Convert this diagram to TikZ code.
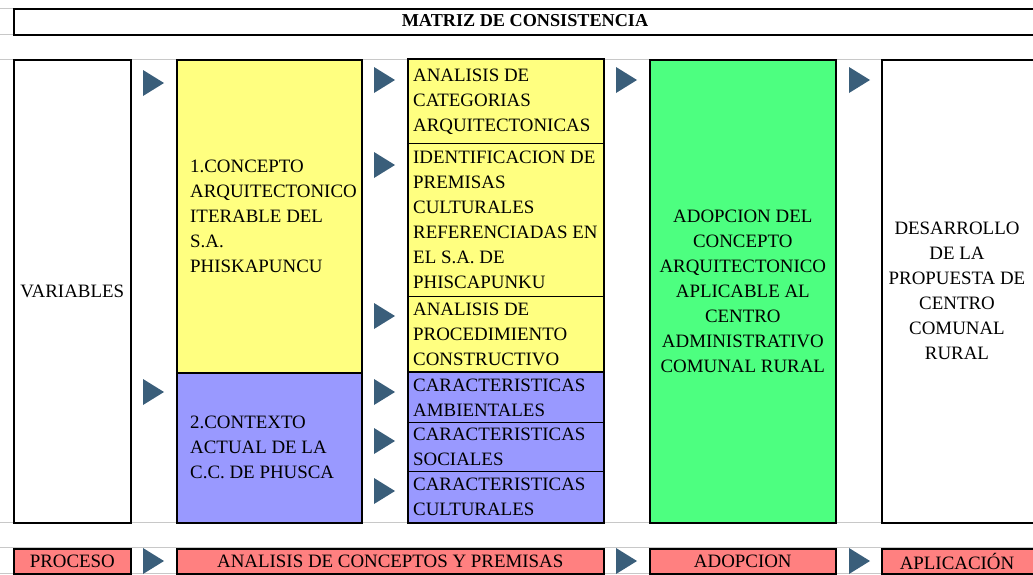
\documentclass[tikz,border=0pt]{standalone}
\usepackage{fontspec}
\setmainfont{Liberation Serif}
\definecolor{yel}{RGB}{255,255,128}
\definecolor{blu}{RGB}{153,153,255}
\definecolor{grn}{RGB}{77,255,128}
\definecolor{pnk}{RGB}{255,128,128}
\definecolor{arr}{RGB}{58,94,122}
\definecolor{grid}{RGB}{200,200,200}
\newcommand{\tri}[2]{\fill[arr] (#1,#2-13) -- (#1+21,#2) -- (#1,#2+13) -- cycle;}
\begin{document}
\begin{tikzpicture}[x=1pt,y=-1pt,
  box/.style={draw=black,line width=1.6pt,anchor=north west,inner sep=0pt},
  thin/.style={draw=black,line width=0.8pt,anchor=north west,inner sep=0pt},
  lbl/.style={font=\fontsize{18.9}{25}\selectfont,inner sep=0pt},
  gline/.style={draw=grid,line width=1pt}]
\useasboundingbox (0,0) rectangle (1033,574);
% grid lines
\foreach \yy in {8,34,59,522,547,573} \draw[gline] (0,\yy) -- (1033,\yy);
% title
\node[box,fill=white,minimum width=1030pt,minimum height=26pt] (title) at (13,8) {};
\node[font=\bfseries\fontsize{18.2}{22}\selectfont,inner sep=0pt] (titlet) at (525,21) {MATRIZ DE CONSISTENCIA};
% variables
\node[box,fill=white,minimum width=117pt,minimum height=463pt] (var) at (13,59) {};
\node[lbl] (vart) at (var.center) {VARIABLES};
% column 1
\node[box,fill=yel,minimum width=185pt,minimum height=313pt] (c1) at (176,59) {};
\node[lbl,anchor=west,align=left] (c1t) at ([xshift=14pt]c1.west) {1.CONCEPTO\\ARQUITECTONICO\\ITERABLE DEL\\S.A.\\PHISKAPUNCU};
\node[box,fill=blu,minimum width=185pt,minimum height=150pt] (c2) at (176,372) {};
\node[lbl,anchor=west,align=left] (c2t) at ([xshift=14pt]c2.west) {2.CONTEXTO\\ACTUAL DE LA\\C.C. DE PHUSCA};
% middle column
\node[thin,fill=yel,minimum width=195pt,minimum height=84pt] (m1) at (408,59) {};
\node[thin,fill=yel,minimum width=195pt,minimum height=153pt] (m2) at (408,143) {};
\node[thin,fill=yel,minimum width=195pt,minimum height=76pt] (m3) at (408,296) {};
\node[thin,fill=blu,minimum width=195pt,minimum height=50pt] (m4) at (408,372) {};
\node[thin,fill=blu,minimum width=195pt,minimum height=49pt] (m5) at (408,422) {};
\node[thin,fill=blu,minimum width=195pt,minimum height=51pt] (m6) at (408,471) {};
\draw[line width=1.6pt] (m1.north west) rectangle (m6.south east);
\draw[line width=1.6pt] (m4.north west) -- (m4.north east);
\node[lbl,anchor=west,align=left] (m1t) at ([xshift=5pt]m1.west) {ANALISIS DE\\CATEGORIAS\\ARQUITECTONICAS};
\node[lbl,anchor=west,align=left] (m2t) at ([xshift=5pt]m2.west) {IDENTIFICACION DE\\PREMISAS\\CULTURALES\\REFERENCIADAS EN\\EL S.A. DE\\PHISCAPUNKU};
\node[lbl,anchor=west,align=left] (m3t) at ([xshift=5pt]m3.west) {ANALISIS DE\\PROCEDIMIENTO\\CONSTRUCTIVO};
\node[lbl,anchor=west,align=left] (m4t) at ([xshift=5pt]m4.west) {CARACTERISTICAS\\AMBIENTALES};
\node[lbl,anchor=west,align=left] (m5t) at ([xshift=5pt]m5.west) {CARACTERISTICAS\\SOCIALES};
\node[lbl,anchor=west,align=left] (m6t) at ([xshift=5pt]m6.west) {CARACTERISTICAS\\CULTURALES};
% green
\node[box,fill=grn,minimum width=186pt,minimum height=463pt] (g) at (649,59) {};
\node[lbl,align=center] (gt) at (g.center) {ADOPCION DEL\\CONCEPTO\\ARQUITECTONICO\\APLICABLE AL\\CENTRO\\ADMINISTRATIVO\\COMUNAL RURAL};
% right
\node[box,fill=white,minimum width=154pt,minimum height=463pt] (r) at (881,59) {};
\node[lbl,align=center] (rt) at (957,290.5) {DESARROLLO\\DE LA\\PROPUESTA DE\\CENTRO\\COMUNAL\\RURAL};
% bottom row
\node[box,fill=pnk,minimum width=117pt,minimum height=25pt] (b1) at (13,548) {};
\node[lbl] (b1t) at (b1.center) {PROCESO};
\node[box,fill=pnk,minimum width=427pt,minimum height=25pt] (b2) at (176,548) {};
\node[lbl] (b2t) at (b2.center) {ANALISIS DE CONCEPTOS Y PREMISAS};
\node[box,fill=pnk,minimum width=186pt,minimum height=25pt] (b3) at (649,548) {};
\node[lbl] (b3t) at (b3.center) {ADOPCION};
\node[box,fill=pnk,minimum width=154pt,minimum height=25pt] (b4) at (881,548) {};
\node[lbl] (b4t) at (957,561) {APLICACIÓN};
% arrows
\tri{143}{83}
\tri{143}{392}
\tri{374}{80}
\tri{374}{165}
\tri{374}{316}
\tri{374}{392}
\tri{374}{441}
\tri{374}{491}
\tri{616}{80}
\tri{849}{80}
\tri{143}{561}
\tri{616}{561}
\tri{849}{561}
\end{tikzpicture}
\end{document}
